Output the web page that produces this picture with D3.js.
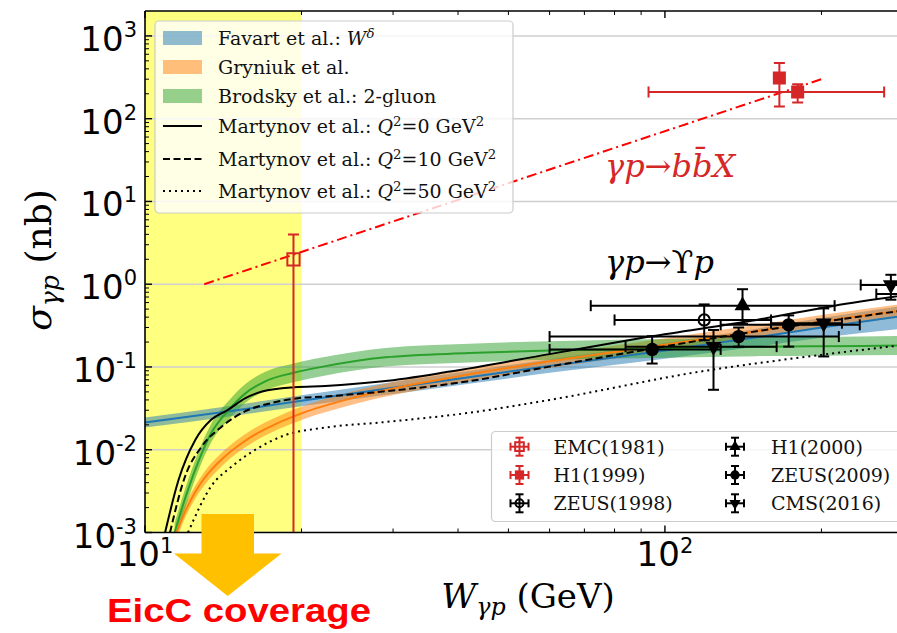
<!DOCTYPE html>
<html>
<head>
<meta charset="utf-8">
<script src="https://cdn.jsdelivr.net/npm/d3@7"></script>
<style>
  body { margin: 0; background: #fff; }
  svg { display: block; }
</style>
</head>
<body>
<div id="chart"></div>
<script>
// ---- data (W in GeV, sigma in nb) ----
const eiccRange = [10, 20];

// Favart et al.: W^delta band
const favartW   = [10, 15, 20, 30, 40, 60, 100, 150, 200, 300];
const favartMid = [0.0213, 0.030, 0.039, 0.056, 0.072, 0.103, 0.158, 0.228, 0.30, 0.43];
const favartLo  = [0.0185, 0.026, 0.0335, 0.047, 0.060, 0.085, 0.126, 0.175, 0.225, 0.30];
const favartHi  = [0.0245, 0.0348, 0.0455, 0.066, 0.086, 0.124, 0.195, 0.29, 0.39, 0.57];

// Gryniuk et al.
const gryniukW   = [11.5, 12, 12.5, 13, 14, 15, 16, 18, 20, 25, 30, 40, 60, 100, 150, 200, 300];
const gryniukMid = [0.001, 0.0019, 0.0031, 0.0045, 0.0075, 0.0108, 0.0143, 0.021, 0.0275, 0.042, 0.055, 0.077, 0.117, 0.185, 0.27, 0.355, 0.50];
const gryniukLo  = [0.00083, 0.0016, 0.0026, 0.0037, 0.0062, 0.009, 0.0119, 0.0175, 0.0229, 0.035, 0.0458, 0.064, 0.0975, 0.154, 0.225, 0.296, 0.417];
const gryniukHi  = [0.0012, 0.0023, 0.0037, 0.0054, 0.009, 0.013, 0.0172, 0.0252, 0.033, 0.0504, 0.066, 0.0924, 0.14, 0.222, 0.324, 0.426, 0.60];

// Brodsky et al.: 2-gluon
const brodskyW   = [11.4, 12.1, 12.7, 13.4, 14.5, 15.6, 17, 19.4, 22, 29, 42, 60, 100, 150, 200, 300];
const brodskyMid = [0.001, 0.0033, 0.0075, 0.0158, 0.0303, 0.048, 0.0667, 0.0856, 0.101, 0.131, 0.147, 0.158, 0.168, 0.175, 0.178, 0.182];
const brodskyLo  = [0.0008, 0.0025, 0.0058, 0.0122, 0.0233, 0.037, 0.0513, 0.0658, 0.078, 0.101, 0.113, 0.122, 0.129, 0.135, 0.137, 0.14];
const brodskyHi  = [0.0013, 0.0043, 0.0098, 0.0205, 0.0394, 0.0624, 0.0867, 0.111, 0.131, 0.17, 0.191, 0.205, 0.218, 0.227, 0.231, 0.237];

// Martynov et al.
const martQ0W  = [10.93, 11.6, 12.5, 13.4, 14.4, 15.6, 16.8, 19.4, 22.2, 28.7, 38.6, 60, 93.5, 150, 211, 300];
const martQ0   = [0.001, 0.0043, 0.0132, 0.023, 0.030, 0.042, 0.0505, 0.057, 0.059, 0.067, 0.088, 0.143, 0.233, 0.37, 0.547, 0.76];
const martQ10W = [11.17, 11.94, 12.85, 14.04, 15.56, 17.5, 19.7, 22.2, 28.7, 41.6, 60, 94, 150, 200, 300];
const martQ10  = [0.001, 0.00475, 0.0109, 0.019, 0.029, 0.0366, 0.042, 0.044, 0.0505, 0.0667, 0.101, 0.166, 0.27, 0.35, 0.50];
const martQ50W = [12.1, 13.4, 14.7, 16.3, 18.6, 22.2, 28.7, 41.6, 60, 117, 200, 300];
const martQ50  = [0.001, 0.0036, 0.0063, 0.010, 0.015, 0.0185, 0.0215, 0.0277, 0.040, 0.088, 0.14, 0.19];

// gamma p -> b bbar X trend line
const bbW     = [13, 200];
const bbSigma = [1.0, 300];

// measurements: W, sigma, W range, sigma range
const emcW = [19.3], emcS = [2.0], emcWlo = [19.3], emcWhi = [19.3], emcSlo = [0], emcShi = [4.0];
const h199W = [166, 180], h199S = [310, 210], h199Wlo = [166, 93], h199Whi = [166, 264], h199Slo = [140, 157], h199Shi = [470, 260];
const z98W = [119], z98S = [0.37], z98Wlo = [80], z98Whi = [160], z98Slo = [0.21], z98Shi = [0.57];
const h100W = [141], h100S = [0.55], h100Wlo = [72], h100Whi = [212], h100Slo = [0.33], h100Shi = [0.87];
const z09W = [94.5, 138.6, 173], z09S = [0.163, 0.233, 0.323], z09Wlo = [60, 60, 128], z09Whi = [128, 216, 237], z09Slo = [0.11, 0.176, 0.176], z09Shi = [0.235, 0.30, 0.42];
const cmsW = [124, 202, 272, 310], cmsS = [0.176, 0.338, 0.98, 0.76], cmsWlo = [84, 160, 238, 255], cmsWhi = [164, 219, 330, 380], cmsSlo = [0.053, 0.134, 0.65, 0.55], cmsShi = [0.28, 0.51, 1.3, 1.0];

const yTickExp = [-3, -2, -1, 0, 1, 2, 3];
const xTickExp = [1, 2];

// ---- layout ----
const width = 897, height = 633;
const serif = "'DejaVu Serif', 'Liberation Serif', serif";
const sans = "'DejaVu Sans', sans-serif";

const x = d3.scaleLog().domain([10, 300]).range([145, 913]);
const y = d3.scaleLog().domain([1e-3, 2000]).range([532.5, 11]);
const [px0, px1] = x.range();
const [py1, py0] = y.range();

const svg = d3.select("#chart").append("svg")
    .attr("width", width).attr("height", height);

svg.append("defs").append("clipPath").attr("id", "plot")
  .append("rect").attr("x", px0).attr("y", py0).attr("width", px1 - px0).attr("height", py1 - py0);

const plot = svg.append("g").attr("clip-path", "url(#plot)");

// EicC coverage shading
plot.append("rect")
    .attr("x", x(eiccRange[0])).attr("y", py0)
    .attr("width", x(eiccRange[1]) - x(eiccRange[0])).attr("height", py1 - py0)
    .attr("fill", "#ffff80");

// horizontal grid
plot.selectAll(".grid").data(yTickExp).enter().append("line")
    .attr("x1", px0).attr("x2", px1)
    .attr("y1", d => y(Math.pow(10, d))).attr("y2", d => y(Math.pow(10, d)))
    .attr("stroke", "#cfcfcf").attr("stroke-width", 1.5);

// helpers to zip arrays
const pts = (ws, vs) => ws.map((w, i) => ({ w: w, v: vs[i] }));
const band = (ws, lo, hi) => ws.map((w, i) => ({ w: w, lo: lo[i], hi: hi[i] }));

const area = d3.area().x(d => x(d.w)).y0(d => y(d.lo)).y1(d => y(d.hi)).curve(d3.curveMonotoneX);
const line = d3.line().x(d => x(d.w)).y(d => y(d.v)).curve(d3.curveMonotoneX);

const bands = [
  { d: band(favartW, favartLo, favartHi), c: "#1f77b4" },
  { d: band(gryniukW, gryniukLo, gryniukHi), c: "#ff7f0e" },
  { d: band(brodskyW, brodskyLo, brodskyHi), c: "#2ca02c" }
];
bands.forEach(b => {
  plot.append("path").attr("d", area(b.d)).attr("fill", b.c).attr("fill-opacity", 0.5);
});

const curves = [
  { d: pts(favartW, favartMid), c: "#1f77b4", dash: null },
  { d: pts(gryniukW, gryniukMid), c: "#ff7f0e", dash: null },
  { d: pts(brodskyW, brodskyMid), c: "#2ca02c", dash: null },
  { d: pts(martQ0W, martQ0), c: "#000", dash: null },
  { d: pts(martQ10W, martQ10), c: "#000", dash: "7,3.5" },
  { d: pts(martQ50W, martQ50), c: "#000", dash: "2,4" }
];
curves.forEach(k => {
  plot.append("path").attr("d", line(k.d))
      .attr("fill", "none").attr("stroke", k.c).attr("stroke-width", 2)
      .attr("stroke-dasharray", k.dash);
});

// b bbar trend line
plot.append("path")
    .attr("d", d3.line().x(d => x(d.w)).y(d => y(d.v))(pts(bbW, bbSigma)))
    .attr("fill", "none").attr("stroke", "#ff0000").attr("stroke-width", 2)
    .attr("stroke-dasharray", "10,4,2,4");

// error bars + markers
function series(ws, ss, wlo, whi, slo, shi) {
  return ws.map((w, i) => ({ w: w, s: ss[i], wlo: wlo[i], whi: whi[i], slo: slo[i], shi: shi[i] }));
}
function errbars(g, data, color) {
  const cap = 5.5;
  data.forEach(d => {
    const cx = x(d.w);
    const yTop = y(d.shi);
    const hasLo = d.slo > y.domain()[0];
    const yBot = hasLo ? y(d.slo) : py1 + 5;
    g.append("line").attr("x1", cx).attr("x2", cx).attr("y1", yTop).attr("y2", yBot)
      .attr("stroke", color).attr("stroke-width", 2);
    g.append("line").attr("x1", cx - cap).attr("x2", cx + cap).attr("y1", yTop).attr("y2", yTop)
      .attr("stroke", color).attr("stroke-width", 2);
    if (hasLo) g.append("line").attr("x1", cx - cap).attr("x2", cx + cap).attr("y1", yBot).attr("y2", yBot)
      .attr("stroke", color).attr("stroke-width", 2);
    if (d.wlo !== d.whi) {
      const cy = y(d.s);
      g.append("line").attr("x1", x(d.wlo)).attr("x2", x(d.whi)).attr("y1", cy).attr("y2", cy)
        .attr("stroke", color).attr("stroke-width", 2);
      [d.wlo, d.whi].forEach(e => {
        g.append("line").attr("x1", x(e)).attr("x2", x(e)).attr("y1", cy - cap).attr("y2", cy + cap)
          .attr("stroke", color).attr("stroke-width", 2);
      });
    }
  });
}
function marker(g, type, size, cx, cy, color) {
  const sym = { square: d3.symbolSquare, circle: d3.symbolCircle, tri: d3.symbolTriangle, tridown: d3.symbolTriangle, ocircle: d3.symbolCircle, osquare: d3.symbolSquare }[type];
  const p = g.append("path").attr("d", d3.symbol(sym, size)())
      .attr("transform", `translate(${cx},${cy})` + (type === "tridown" ? " rotate(180)" : ""));
  if (type === "ocircle" || type === "osquare") p.attr("fill", "none").attr("stroke", color).attr("stroke-width", 2);
  else p.attr("fill", color);
}

const measurements = [
  { name: "EMC(1981)", d: series(emcW, emcS, emcWlo, emcWhi, emcSlo, emcShi), c: "#d62728", m: "osquare", sz: 150 },
  { name: "H1(1999)", d: series(h199W, h199S, h199Wlo, h199Whi, h199Slo, h199Shi), c: "#d62728", m: "square", sz: 170 },
  { name: "ZEUS(1998)", d: series(z98W, z98S, z98Wlo, z98Whi, z98Slo, z98Shi), c: "#000", m: "ocircle", sz: 100 },
  { name: "H1(2000)", d: series(h100W, h100S, h100Wlo, h100Whi, h100Slo, h100Shi), c: "#000", m: "tri", sz: 110 },
  { name: "ZEUS(2009)", d: series(z09W, z09S, z09Wlo, z09Whi, z09Slo, z09Shi), c: "#000", m: "circle", sz: 140 },
  { name: "CMS(2016)", d: series(cmsW, cmsS, cmsWlo, cmsWhi, cmsSlo, cmsShi), c: "#000", m: "tridown", sz: 110 }
];
const dataG = plot.append("g");
measurements.forEach(ms => {
  errbars(dataG, ms.d, ms.c);
  ms.d.forEach(d => marker(dataG, ms.m, ms.sz, x(d.w), y(d.s), ms.c));
});

// ---- annotations ----
function rich(t, parts, size) {
  let shift = 0;
  parts.forEach(p => {
    const target = p.sup ? -0.38 * size : p.sub ? 0.22 * size : 0;
    const ts = t.append("tspan").text(p.t)
        .attr("dy", target - shift)
        .attr("font-size", (p.sup || p.sub) ? 0.7 * size : size);
    if (p.it) ts.attr("font-style", "italic");
    shift = target;
  });
}

const bbText = svg.append("text").attr("x", 605).attr("y", 177)
    .attr("font-family", serif).attr("fill", "#d62728");
rich(bbText, [{ t: "γp", it: true }, { t: "→" }, { t: "b", it: true }, { t: "b\u0304", it: true }, { t: "X", it: true }], 32);

const upsText = svg.append("text").attr("x", 605).attr("y", 273)
    .attr("font-family", serif).attr("fill", "#000");
rich(upsText, [{ t: "γp", it: true }, { t: "→ϒ" }, { t: "p", it: true }], 32);

// ---- axes ----
const axes = svg.append("g");
axes.append("line").attr("x1", px0).attr("x2", px0).attr("y1", py0).attr("y2", py1).attr("stroke", "#000").attr("stroke-width", 1.6);
axes.append("line").attr("x1", px0).attr("x2", px1).attr("y1", py1).attr("y2", py1).attr("stroke", "#000").attr("stroke-width", 1.6);
axes.append("line").attr("x1", px0).attr("x2", px1).attr("y1", py0).attr("y2", py0).attr("stroke", "#000").attr("stroke-width", 1.6);

const yMinor = [], xMinor = [];
yTickExp.forEach(e => d3.range(2, 10).forEach(k => { const v = k * Math.pow(10, e); if (v < y.domain()[1]) yMinor.push(v); }));
xTickExp.forEach(e => d3.range(2, 10).forEach(k => { const v = k * Math.pow(10, e); if (v < x.domain()[1]) xMinor.push(v); }));

yTickExp.forEach(e => {
  const yy = y(Math.pow(10, e));
  axes.append("line").attr("x1", px0).attr("x2", px0 + 7).attr("y1", yy).attr("y2", yy).attr("stroke", "#000").attr("stroke-width", 1.4);
});
yMinor.forEach(v => {
  axes.append("line").attr("x1", px0).attr("x2", px0 + 4).attr("y1", y(v)).attr("y2", y(v)).attr("stroke", "#000").attr("stroke-width", 1);
});
xTickExp.forEach(e => {
  const xx = x(Math.pow(10, e));
  axes.append("line").attr("x1", xx).attr("x2", xx).attr("y1", py1).attr("y2", py1 - 7).attr("stroke", "#000").attr("stroke-width", 1.4);
  axes.append("line").attr("x1", xx).attr("x2", xx).attr("y1", py0).attr("y2", py0 + 7).attr("stroke", "#000").attr("stroke-width", 1.4);
});
xMinor.forEach(v => {
  axes.append("line").attr("x1", x(v)).attr("x2", x(v)).attr("y1", py1).attr("y2", py1 - 4).attr("stroke", "#000").attr("stroke-width", 1);
  axes.append("line").attr("x1", x(v)).attr("x2", x(v)).attr("y1", py0).attr("y2", py0 + 4).attr("stroke", "#000").attr("stroke-width", 1);
});

// tick labels
yTickExp.forEach(e => {
  const t = axes.append("text").attr("x", 137).attr("y", y(Math.pow(10, e)) + 15)
      .attr("text-anchor", "end").attr("font-family", sans).attr("font-size", 34);
  t.append("tspan").text("10");
  t.append("tspan").text(String(e)).attr("font-size", 21).attr("dy", -14);
});
xTickExp.forEach(e => {
  const t = axes.append("text").attr("x", x(Math.pow(10, e))).attr("y", 565.5)
      .attr("text-anchor", "middle").attr("font-family", sans).attr("font-size", 34);
  t.append("tspan").text("10");
  t.append("tspan").text(String(e)).attr("font-size", 21).attr("dy", -13);
});

// axis titles
const xTitle = svg.append("text").attr("x", 528).attr("y", 608).attr("text-anchor", "middle")
    .attr("font-family", serif);
rich(xTitle, [{ t: "W", it: true }, { t: "γp", it: true, sub: true }, { t: " (GeV)" }], 34);

const yTitle = svg.append("text").attr("transform", "translate(51,260) rotate(-90)")
    .attr("text-anchor", "middle").attr("font-family", serif);
rich(yTitle, [{ t: "σ", it: true }, { t: "γp", it: true, sub: true }, { t: " (nb)" }], 36);

// ---- legend: theory ----
const leg1 = svg.append("g");
leg1.append("rect").attr("x", 155).attr("y", 21).attr("width", 358).attr("height", 192).attr("rx", 4)
    .attr("fill", "#fff").attr("fill-opacity", 0.8).attr("stroke", "#cccccc").attr("stroke-width", 1.2);
const leg1Rows = [
  { kind: "patch", c: "#1f77b4", cy: 38, parts: [{ t: "Favart et al.: " }, { t: "W", it: true }, { t: "δ", it: true, sup: true }] },
  { kind: "patch", c: "#ff7f0e", cy: 67, parts: [{ t: "Gryniuk et al." }] },
  { kind: "patch", c: "#2ca02c", cy: 96, parts: [{ t: "Brodsky et al.: 2-gluon" }] },
  { kind: "line", dash: null, cy: 126, parts: [{ t: "Martynov et al.: " }, { t: "Q", it: true }, { t: "2", sup: true }, { t: "=0 GeV" }, { t: "2", sup: true }] },
  { kind: "line", dash: "7,3.5", cy: 159, parts: [{ t: "Martynov et al.: " }, { t: "Q", it: true }, { t: "2", sup: true }, { t: "=10 GeV" }, { t: "2", sup: true }] },
  { kind: "line", dash: "2,4", cy: 191, parts: [{ t: "Martynov et al.: " }, { t: "Q", it: true }, { t: "2", sup: true }, { t: "=50 GeV" }, { t: "2", sup: true }] }
];
leg1Rows.forEach(r => {
  if (r.kind === "patch") {
    leg1.append("rect").attr("x", 163).attr("y", r.cy - 7).attr("width", 39).attr("height", 14)
        .attr("fill", r.c).attr("fill-opacity", 0.5);
  } else {
    leg1.append("line").attr("x1", 163).attr("x2", 202).attr("y1", r.cy).attr("y2", r.cy)
        .attr("stroke", "#000").attr("stroke-width", 2).attr("stroke-dasharray", r.dash);
  }
  const t = leg1.append("text").attr("x", 218).attr("y", r.cy + 7).attr("font-family", serif).attr("fill", "#111");
  rich(t, r.parts, 19);
});

// ---- legend: measurements ----
const leg2 = svg.append("g");
leg2.append("rect").attr("x", 491.5).attr("y", 431.5).attr("width", 420).attr("height", 90).attr("rx", 4)
    .attr("fill", "#fff").attr("fill-opacity", 0.8).attr("stroke", "#cccccc").attr("stroke-width", 1.2);
const leg2Cols = [519.5, 735], leg2TextX = [553.5, 771], leg2Rows = [446.7, 475, 503.3];
measurements.forEach((ms, i) => {
  const col = Math.floor(i / 3), row = i % 3;
  const cx = leg2Cols[col], cy = leg2Rows[row];
  const g = leg2.append("g");
  [[cx - 9, cy, cx + 9, cy], [cx, cy - 9, cx, cy + 9],
   [cx - 9, cy - 4, cx - 9, cy + 4], [cx + 9, cy - 4, cx + 9, cy + 4],
   [cx - 4, cy - 9, cx + 4, cy - 9], [cx - 4, cy + 9, cx + 4, cy + 9]].forEach(s => {
    g.append("line").attr("x1", s[0]).attr("y1", s[1]).attr("x2", s[2]).attr("y2", s[3])
      .attr("stroke", ms.c).attr("stroke-width", 2);
  });
  marker(g, ms.m, ms.sz * 0.5, cx, cy, ms.c);
  leg2.append("text").attr("x", leg2TextX[col]).attr("y", cy + 7).attr("font-family", serif)
      .attr("font-size", 19).attr("fill", "#111").text(ms.name);
});

// ---- EicC coverage arrow ----
const arrow = svg.append("g");
arrow.append("path")
    .attr("d", "M201.5,514 L254,514 L254,553.5 L281.5,553.5 L227.7,596 L174,553.5 L201.5,553.5 Z")
    .attr("fill", "#ffc000");
arrow.append("text").attr("x", 107).attr("y", 622).attr("font-family", "'Liberation Sans', Arial, sans-serif")
    .attr("font-weight", "bold").attr("font-size", 34).attr("fill", "#ff0000")
    .attr("textLength", 264).attr("lengthAdjust", "spacingAndGlyphs")
    .text("EicC coverage");
</script>
</body>
</html>
